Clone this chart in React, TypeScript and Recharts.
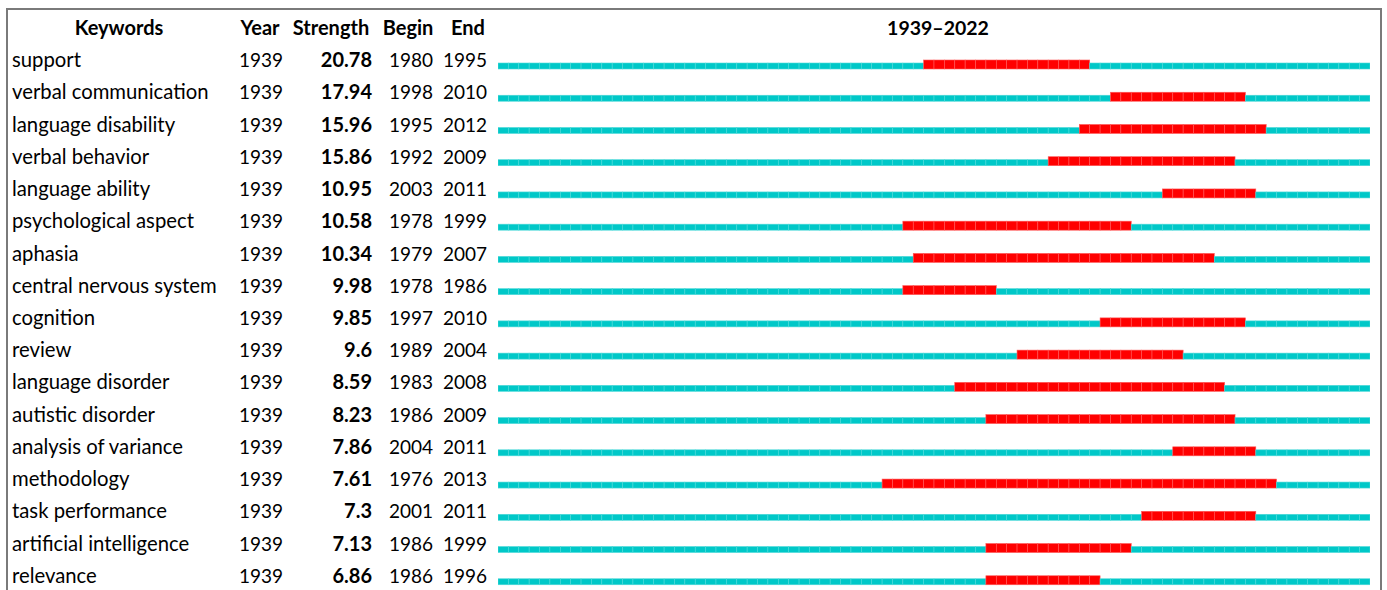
import { BarChart, Bar, XAxis, YAxis } from "recharts";

const startYear = 1939;
const endYear = 2022;

const keywords = [
  "support",
  "verbal communication",
  "language disability",
  "verbal behavior",
  "language ability",
  "psychological aspect",
  "aphasia",
  "central nervous system",
  "cognition",
  "review",
  "language disorder",
  "autistic disorder",
  "analysis of variance",
  "methodology",
  "task performance",
  "artificial intelligence",
  "relevance",
];
const strengths = [20.78, 17.94, 15.96, 15.86, 10.95, 10.58, 10.34, 9.98, 9.85, 9.6, 8.59, 8.23, 7.86, 7.61, 7.3, 7.13, 6.86];
const beginYears = [1980, 1998, 1995, 1992, 2003, 1978, 1979, 1978, 1997, 1989, 1983, 1986, 2004, 1976, 2001, 1986, 1986];
const endYears = [1995, 2010, 2012, 2009, 2011, 1999, 2007, 1986, 2010, 2004, 2008, 2009, 2011, 2013, 2011, 1999, 1996];

const data = keywords.map((keyword, i) => ({
  keyword,
  year: startYear,
  strength: strengths[i],
  begin: beginYears[i],
  end: endYears[i],
  pre: beginYears[i] - startYear,
  burst: endYears[i] - beginYears[i] + 1,
  post: endYear - endYears[i],
}));

const FONT = "Lato, Carlito, Calibri, sans-serif";
const CYAN = "#00C8C8";
const RED = "#FF0000";

// one small rect per year, like the CiteSpace timeline
const yearCells = (key: string, fill: string, edge: string, thick: number) => (props: any) => {
  const { x, y, width, height, payload } = props;
  const n = payload[key];
  if (!n || width <= 0) return <g />;
  const w = width / n;
  const top = y + height - thick;
  return (
    <g>
      {Array.from({ length: n }, (_, i) => (
        <rect key={i} x={x + i * w} y={top} width={w} height={thick} fill={fill} stroke={edge} strokeWidth={0.6} />
      ))}
    </g>
  );
};

const RowTick = (props: any) => {
  const { y, index } = props;
  const row = data[index];
  if (!row) return <g />;
  const base = y + 3;
  const common = { fontFamily: FONT, fill: "#000" };
  return (
    <g>
      <text x={12} y={base} fontSize={20.3} {...common}>{row.keyword}</text>
      <text x={239} y={base} fontSize={19} {...common}>{row.year}</text>
      <text x={372} y={base} fontSize={20} textAnchor="end" fontWeight="bold" {...common}>{row.strength}</text>
      <text x={389} y={base} fontSize={19} {...common}>{row.begin}</text>
      <text x={443} y={base} fontSize={19} {...common}>{row.end}</text>
    </g>
  );
};

const App = () => {
  const head = { fontFamily: FONT, fontSize: 20, fontWeight: "bold" as const, fill: "#000" };
  return (
    <div style={{ position: "absolute", left: 0, top: 0, width: 1387, height: 590, overflow: "hidden", background: "#fff" }}>
      <BarChart
        width={1387}
        height={600}
        layout="vertical"
        data={data}
        barSize={9}
        margin={{ top: 48, right: 17, bottom: 4, left: 0 }}
      >
        <XAxis type="number" domain={[0, endYear - startYear + 1]} allowDataOverflow hide />
        <YAxis
          type="category"
          dataKey="keyword"
          width={498}
          axisLine={false}
          tickLine={false}
          interval={0}
          tick={(p: any) => <RowTick {...p} />}
        />
        <Bar dataKey="pre" stackId="a" isAnimationActive={false} shape={yearCells("pre", CYAN, "#4fd9d9", 6)} />
        <Bar dataKey="burst" stackId="a" isAnimationActive={false} shape={yearCells("burst", RED, "#ff5a5a", 9)} />
        <Bar dataKey="post" stackId="a" isAnimationActive={false} shape={yearCells("post", CYAN, "#4fd9d9", 6)} />
      </BarChart>
      <svg width={1387} height={48} style={{ position: "absolute", left: 0, top: 0 }}>
        <text x={119} y={35} textAnchor="middle" {...head}>Keywords</text>
        <text x={260} y={35} textAnchor="middle" {...head}>Year</text>
        <text x={331} y={35} textAnchor="middle" {...head}>Strength</text>
        <text x={408} y={35} textAnchor="middle" {...head}>Begin</text>
        <text x={468} y={35} textAnchor="middle" {...head}>End</text>
        <text x={938} y={35} textAnchor="middle" fontSize={19.5} fontFamily={FONT} fontWeight="bold">1939–2022</text>
      </svg>
      <div
        style={{
          position: "absolute",
          left: 6,
          top: 8,
          width: 1376,
          height: 700,
          boxSizing: "border-box",
          borderTop: "2px solid #7a7a7a",
          borderLeft: "2px solid #7a7a7a",
          borderRight: "2px solid #7a7a7a",
          pointerEvents: "none",
        }}
      />
    </div>
  );
};

export default App;
